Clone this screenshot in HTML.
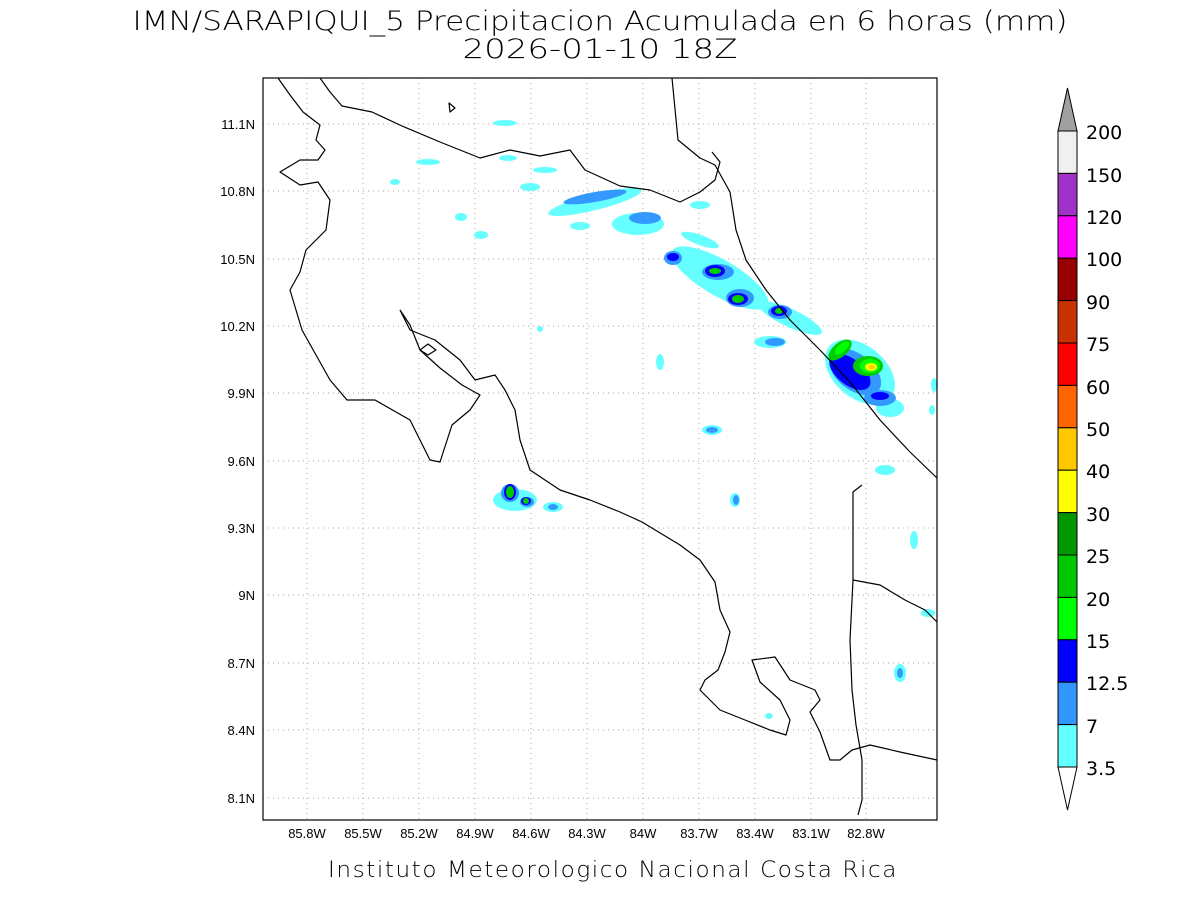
<!DOCTYPE html>
<html><head><meta charset="utf-8"><style>
html,body{margin:0;padding:0;background:#fff;}
svg{display:block;font-family:"Liberation Sans",sans-serif;}
</style></head><body>
<svg width="1200" height="900" viewBox="0 0 1200 900" xmlns="http://www.w3.org/2000/svg">
<rect width="1200" height="900" fill="#fff"/>
<text x="600" y="30" font-size="27" text-anchor="middle" font-family="DejaVu Sans, sans-serif" font-weight="300" textLength="935" lengthAdjust="spacingAndGlyphs">IMN/SARAPIQUI_5 Precipitacion Acumulada en 6 horas (mm)</text>
<text x="600" y="58" font-size="27" text-anchor="middle" font-family="DejaVu Sans, sans-serif" font-weight="300" textLength="275" lengthAdjust="spacingAndGlyphs">2026-01-10 18Z</text>
<g stroke="#aaa" stroke-width="1" stroke-dasharray="1,4">
<line x1="307" y1="78" x2="307" y2="820"/><line x1="363" y1="78" x2="363" y2="820"/><line x1="419" y1="78" x2="419" y2="820"/><line x1="475" y1="78" x2="475" y2="820"/><line x1="531" y1="78" x2="531" y2="820"/><line x1="587" y1="78" x2="587" y2="820"/><line x1="643" y1="78" x2="643" y2="820"/><line x1="699" y1="78" x2="699" y2="820"/><line x1="755" y1="78" x2="755" y2="820"/><line x1="811" y1="78" x2="811" y2="820"/><line x1="866" y1="78" x2="866" y2="820"/>
<line x1="263" y1="124" x2="937" y2="124"/><line x1="263" y1="191" x2="937" y2="191"/><line x1="263" y1="259" x2="937" y2="259"/><line x1="263" y1="326" x2="937" y2="326"/><line x1="263" y1="393" x2="937" y2="393"/><line x1="263" y1="461" x2="937" y2="461"/><line x1="263" y1="528" x2="937" y2="528"/><line x1="263" y1="595" x2="937" y2="595"/><line x1="263" y1="663" x2="937" y2="663"/><line x1="263" y1="730" x2="937" y2="730"/><line x1="263" y1="798" x2="937" y2="798"/>
</g>
<g>
<g fill="#66ffff">
<ellipse cx="505" cy="123" rx="12" ry="3"/><ellipse cx="428" cy="162" rx="12" ry="3"/><ellipse cx="508" cy="158" rx="9" ry="3"/><ellipse cx="545" cy="170" rx="12" ry="3"/><ellipse cx="395" cy="182" rx="5" ry="3"/><ellipse cx="530" cy="187" rx="10" ry="4"/>
<ellipse cx="595" cy="202" rx="48" ry="8" transform="rotate(-14 595 202)"/><ellipse cx="638" cy="224" rx="26" ry="11"/><ellipse cx="700" cy="205" rx="10" ry="4"/><ellipse cx="580" cy="226" rx="10" ry="4"/>
<ellipse cx="461" cy="217" rx="6" ry="4"/><ellipse cx="481" cy="235" rx="7" ry="4"/>
<ellipse cx="720" cy="278" rx="55" ry="18" transform="rotate(30 720 278)"/><ellipse cx="790" cy="318" rx="35" ry="9" transform="rotate(25 790 318)"/><ellipse cx="700" cy="240" rx="20" ry="5" transform="rotate(20 700 240)"/>
<ellipse cx="860" cy="372" rx="40" ry="26" transform="rotate(40 860 372)"/><ellipse cx="890" cy="408" rx="14" ry="9"/><ellipse cx="885" cy="470" rx="10" ry="5"/><ellipse cx="770" cy="342" rx="16" ry="6"/>
<ellipse cx="660" cy="362" rx="4" ry="8"/><ellipse cx="712" cy="430" rx="10" ry="5"/><ellipse cx="735" cy="500" rx="5" ry="7"/><ellipse cx="934" cy="385" rx="3" ry="7"/><ellipse cx="932" cy="410" rx="3" ry="5"/>
<ellipse cx="515" cy="500" rx="22" ry="11"/><ellipse cx="553" cy="507" rx="10" ry="5"/><ellipse cx="914" cy="540" rx="4" ry="9"/><ellipse cx="900" cy="673" rx="6" ry="9"/><ellipse cx="769" cy="716" rx="4" ry="3"/><ellipse cx="928" cy="613" rx="7" ry="4"/><ellipse cx="540" cy="329" rx="3" ry="3"/>
</g>
<g fill="#3399ff">
<ellipse cx="595" cy="197" rx="32" ry="5" transform="rotate(-10 595 197)"/><ellipse cx="645" cy="218" rx="16" ry="6"/>
<ellipse cx="673" cy="258" rx="9" ry="7"/><ellipse cx="718" cy="272" rx="16" ry="8"/><ellipse cx="740" cy="298" rx="14" ry="9"/><ellipse cx="780" cy="312" rx="12" ry="7"/><ellipse cx="775" cy="342" rx="10" ry="4"/>
<ellipse cx="855" cy="372" rx="30" ry="18" transform="rotate(38 855 372)"/><ellipse cx="880" cy="398" rx="16" ry="8"/>
<ellipse cx="510" cy="493" rx="9" ry="9"/><ellipse cx="527" cy="502" rx="7" ry="5"/><ellipse cx="553" cy="507" rx="5" ry="3"/><ellipse cx="736" cy="500" rx="3" ry="5"/><ellipse cx="712" cy="430" rx="6" ry="3"/><ellipse cx="900" cy="673" rx="3" ry="5"/>
</g>
<g fill="#0000ff">
<ellipse cx="673" cy="257" rx="6" ry="4"/><ellipse cx="715" cy="271" rx="10" ry="6"/><ellipse cx="738" cy="299" rx="10" ry="6"/><ellipse cx="779" cy="311" rx="8" ry="5"/>
<ellipse cx="850" cy="372" rx="24" ry="13" transform="rotate(38 850 372)"/><ellipse cx="880" cy="396" rx="9" ry="4"/>
<ellipse cx="510" cy="492" rx="6" ry="8"/><ellipse cx="526" cy="501" rx="5" ry="4"/>
</g>
<g fill="#00cc00">
<ellipse cx="715" cy="271" rx="6" ry="3"/><ellipse cx="738" cy="299" rx="6" ry="4"/><ellipse cx="779" cy="311" rx="4" ry="3"/>
<ellipse cx="840" cy="350" rx="14" ry="7" transform="rotate(-40 840 350)"/><ellipse cx="868" cy="366" rx="15" ry="10"/>
<ellipse cx="510" cy="492" rx="4" ry="6"/><ellipse cx="526" cy="501" rx="3" ry="3"/>
</g>
<g fill="#00ff00"><ellipse cx="842" cy="348" rx="9" ry="4" transform="rotate(-40 842 348)"/><ellipse cx="870" cy="366" rx="10" ry="7"/></g>
<ellipse cx="871" cy="367" rx="6" ry="4" fill="#ffff00"/>
<ellipse cx="872" cy="367" rx="3" ry="2" fill="#ffcc00"/>
</g>
<g fill="none" stroke="#000" stroke-width="1.2" stroke-linejoin="round">
<polyline points="278,78 290,95 303,112 320,125 316,140 325,150 318,160 300,160 280,172 300,185 318,182 330,200 326,230 306,250 300,272 290,290 302,330 330,380 347,400 375,400 410,420 430,460 440,462 452,425 470,410 480,395 462,385 440,368 420,350 410,325 400,310"/>
<polyline points="400,310 410,330 435,340 460,360 475,380 495,375 505,390 515,410 520,440 530,470 560,490 590,500 620,512 642,522 680,545 700,560 715,582 720,610 730,632 725,652 718,670 705,680 700,690 720,710 745,720 770,730 786,735 790,720 780,700 760,682 752,660 775,657 790,680 815,690 820,700 810,712 820,732 830,760 840,760 852,750 870,745 900,752 937,760"/>
<polyline points="320,78 330,92 342,106 372,112 402,126 440,142 480,158 510,150 540,156 570,150 585,170 620,186 650,190 680,202 700,192 715,180 720,162 712,152"/>
<polyline points="672,78 678,140 700,158 715,165 730,192 736,230 746,260 766,290 790,320 820,350 850,382 880,420 910,452 937,478"/>
<polyline points="862,485 853,492 853,580 880,585 905,600 925,610 937,622"/>
<polyline points="853,580 850,640 852,690 856,725 862,760 862,800 858,815"/>
<polygon points="449,103 455,108 450,112"/>
<polygon points="420,350 428,344 436,350 428,355"/>
</g>
<rect x="263" y="78" width="674" height="742" fill="none" stroke="#000" stroke-width="1.2"/>
<g font-size="13" text-anchor="end">
<text x="255" y="129">11.1N</text><text x="255" y="196">10.8N</text><text x="255" y="264">10.5N</text><text x="255" y="331">10.2N</text><text x="255" y="398">9.9N</text><text x="255" y="466">9.6N</text><text x="255" y="533">9.3N</text><text x="255" y="600">9N</text><text x="255" y="668">8.7N</text><text x="255" y="735">8.4N</text><text x="255" y="803">8.1N</text>
</g>
<g font-size="13" text-anchor="middle">
<text x="307" y="838">85.8W</text><text x="363" y="838">85.5W</text><text x="419" y="838">85.2W</text><text x="475" y="838">84.9W</text><text x="531" y="838">84.6W</text><text x="587" y="838">84.3W</text><text x="643" y="838">84W</text><text x="699" y="838">83.7W</text><text x="755" y="838">83.4W</text><text x="811" y="838">83.1W</text><text x="866" y="838">82.8W</text>
</g>
<text x="613" y="877" font-size="22" text-anchor="middle" font-family="DejaVu Sans, sans-serif" font-weight="300" letter-spacing="1.5" textLength="570" lengthAdjust="spacingAndGlyphs">Instituto Meteorologico Nacional Costa Rica</text>
<g stroke="#000" stroke-width="1">
<polygon points="1058,131 1077,131 1067.5,88" fill="#a0a0a0"/>
<rect x="1058" y="131" width="19" height="42.4" fill="#f0f0f0"/>
<rect x="1058" y="173.4" width="19" height="42.4" fill="#a032c8"/>
<rect x="1058" y="215.8" width="19" height="42.4" fill="#ff00ff"/>
<rect x="1058" y="258.2" width="19" height="42.4" fill="#960000"/>
<rect x="1058" y="300.6" width="19" height="42.4" fill="#c83200"/>
<rect x="1058" y="343" width="19" height="42.4" fill="#ff0000"/>
<rect x="1058" y="385.4" width="19" height="42.4" fill="#ff6400"/>
<rect x="1058" y="427.8" width="19" height="42.4" fill="#ffc800"/>
<rect x="1058" y="470.2" width="19" height="42.4" fill="#ffff00"/>
<rect x="1058" y="512.6" width="19" height="42.4" fill="#009600"/>
<rect x="1058" y="555" width="19" height="42.4" fill="#00c800"/>
<rect x="1058" y="597.4" width="19" height="42.4" fill="#00ff00"/>
<rect x="1058" y="639.8" width="19" height="42.4" fill="#0000ff"/>
<rect x="1058" y="682.2" width="19" height="42.4" fill="#3296ff"/>
<rect x="1058" y="724.6" width="19" height="42.4" fill="#64ffff"/>
<polygon points="1058,767 1077,767 1067.5,810" fill="#fff"/>
</g>
<g font-size="19" font-family="DejaVu Sans, sans-serif">
<text x="1086" y="139">200</text><text x="1086" y="182">150</text><text x="1086" y="224">120</text><text x="1086" y="266">100</text><text x="1086" y="309">90</text><text x="1086" y="351">75</text><text x="1086" y="394">60</text><text x="1086" y="436">50</text><text x="1086" y="478">40</text><text x="1086" y="521">30</text><text x="1086" y="563">25</text><text x="1086" y="606">20</text><text x="1086" y="648">15</text><text x="1086" y="690">12.5</text><text x="1086" y="733">7</text><text x="1086" y="775">3.5</text>
</g>
</svg>
</body></html>
